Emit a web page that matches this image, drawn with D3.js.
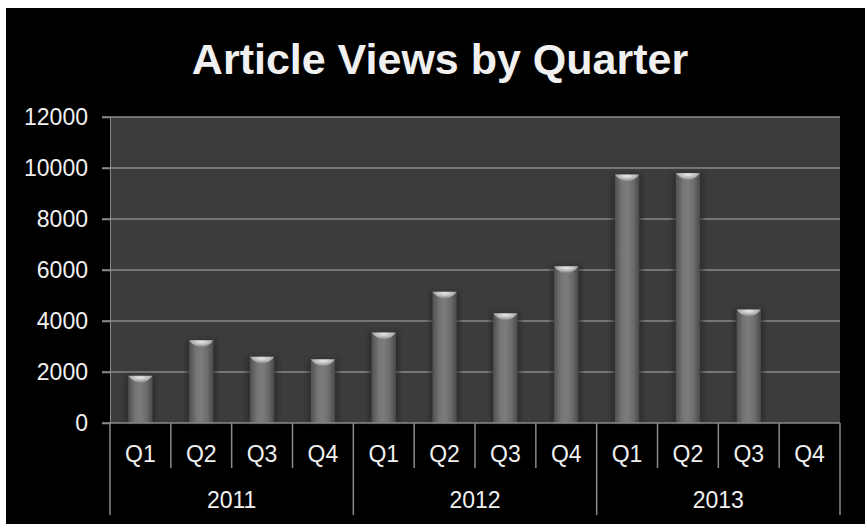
<!DOCTYPE html>
<html>
<head>
<meta charset="utf-8">
<script src="https://cdn.jsdelivr.net/npm/d3@7"></script>
<style>
  html, body { margin: 0; padding: 0; background: #fff; }
  svg { display: block; font-family: "Liberation Sans", Arial, sans-serif; }
</style>
</head>
<body>
<div id="chart"></div>
<script>
const years = ['2011', '2012', '2013'];
const quarters = ['Q1', 'Q2', 'Q3', 'Q4'];
const views = [1850, 3250, 2600, 2500, 3550, 5150, 4300, 6150, 9750, 9800, 4450, null];
const yTicks = [0, 2000, 4000, 6000, 8000, 10000, 12000];

const W = 865, H = 524;
const plot = { left: 110, right: 840, top: 117, bottom: 423 };
const textColor = '#f0f0f0';

const cats = [];
years.forEach(y => quarters.forEach(q => cats.push({ year: y, q })));
cats.forEach((c, i) => { c.value = views[i]; c.i = i; });

const svg = d3.select('#chart').append('svg')
  .attr('width', W).attr('height', H);

// white border on top/left, black slide area
svg.append('rect').attr('x', 6).attr('y', 8).attr('width', W - 6).attr('height', H - 8).attr('fill', '#000');

const defs = svg.append('defs');
const barGrad = defs.append('linearGradient').attr('id', 'barGrad').attr('x1', 0).attr('x2', 1).attr('y1', 0).attr('y2', 0);
[[0, '#505050'], [0.3, '#767676'], [0.5, '#7c7c7c'], [0.75, '#6c6c6c'], [1, '#494949']]
  .forEach(([o, c]) => barGrad.append('stop').attr('offset', o).attr('stop-color', c));
const capGrad = defs.append('radialGradient').attr('id', 'capGrad').attr('cx', 0.5).attr('cy', 0.2).attr('r', 0.7);
[[0, '#eaeaea'], [0.5, '#b8b8b8'], [1, '#777777']]
  .forEach(([o, c]) => capGrad.append('stop').attr('offset', o).attr('stop-color', c));
defs.append('filter').attr('id', 'blur').append('feGaussianBlur').attr('stdDeviation', 2.5);

const x = d3.scaleBand().domain(cats.map(c => c.i)).range([plot.left, plot.right]);
const xBar = d3.scaleBand().domain(cats.map(c => c.i)).range([plot.left, plot.right])
  .paddingInner(0.6).paddingOuter(0.3);
const y = d3.scaleLinear().domain([0, 12000]).range([plot.bottom, plot.top]);

// title
svg.append('text')
  .attr('x', 440).attr('y', 74)
  .attr('text-anchor', 'middle')
  .attr('fill', textColor)
  .style('font-size', '43px').style('font-weight', 'bold')
  .text('Article Views by Quarter');

// plot background
svg.append('rect')
  .attr('x', plot.left).attr('y', plot.top)
  .attr('width', plot.right - plot.left).attr('height', plot.bottom - plot.top)
  .attr('fill', '#3c3c3c');

// grid lines
svg.append('g').selectAll('line').data(yTicks.filter(t => t > 0)).enter().append('line')
  .attr('x1', plot.left - 8).attr('x2', plot.right)
  .attr('y1', d => y(d)).attr('y2', d => y(d))
  .attr('stroke', '#8a8a8a').attr('stroke-width', 1.5);

// y axis labels
const yAxis = svg.append('g')
  .attr('transform', `translate(${plot.left},0)`)
  .call(d3.axisLeft(y).tickValues(yTicks).tickSize(8).tickPadding(14).tickFormat(d3.format('d')));
yAxis.select('.domain').attr('stroke', '#8a8a8a');
yAxis.selectAll('.tick line').attr('stroke', '#8a8a8a').attr('stroke-width', 1.5);
yAxis.selectAll('text').attr('fill', textColor).style('font-size', '23px').attr('font-family', null);

// bars
const data = cats.filter(c => c.value != null);
const bw = xBar.bandwidth();
const capH = 8;

svg.append('g').selectAll('rect').data(data).enter().append('rect')
  .attr('x', d => xBar(d.i) - 3).attr('y', d => y(d.value))
  .attr('width', bw + 6).attr('height', d => plot.bottom - y(d.value))
  .attr('fill', '#262626').attr('opacity', 0.7).attr('filter', 'url(#blur)');

svg.append('g').selectAll('rect').data(data).enter().append('rect')
  .attr('x', d => xBar(d.i)).attr('y', d => y(d.value))
  .attr('width', bw).attr('height', d => plot.bottom - y(d.value))
  .attr('fill', 'url(#barGrad)');

svg.append('g').selectAll('path').data(data).enter().append('path')
  .attr('d', d => {
    const x0 = xBar(d.i), x1 = x0 + bw, yt = y(d.value), cx = x0 + bw / 2;
    return `M${x0},${yt} L${x1},${yt} Q${x1 - 3},${yt + capH * 0.6} ${cx},${yt + capH} Q${x0 + 3},${yt + capH * 0.6} ${x0},${yt} Z`;
  })
  .attr('fill', 'url(#capGrad)');

// zero axis line
svg.append('line')
  .attr('x1', plot.left - 8).attr('x2', plot.right)
  .attr('y1', y(0)).attr('y2', y(0))
  .attr('stroke', '#8a8a8a').attr('stroke-width', 1.5);

// category separators
const bounds = d3.range(cats.length + 1).map(i => plot.left + i * x.step());
svg.append('g').selectAll('line').data(bounds).enter().append('line')
  .attr('x1', d => d).attr('x2', d => d)
  .attr('y1', y(0))
  .attr('y2', (d, i) => (i % quarters.length === 0 ? 515 : 468))
  .attr('stroke', '#8a8a8a').attr('stroke-width', 1.5);

// quarter labels
svg.append('g').selectAll('text').data(cats).enter().append('text')
  .attr('x', d => x(d.i) + x.bandwidth() / 2).attr('y', 462)
  .attr('text-anchor', 'middle').attr('fill', textColor)
  .style('font-size', '23px')
  .text(d => d.q);

// year labels
svg.append('g').selectAll('text').data(years).enter().append('text')
  .attr('x', (d, i) => (bounds[i * 4] + bounds[i * 4 + 4]) / 2).attr('y', 508)
  .attr('text-anchor', 'middle').attr('fill', textColor)
  .style('font-size', '23px')
  .text(d => d);
</script>
</body>
</html>
